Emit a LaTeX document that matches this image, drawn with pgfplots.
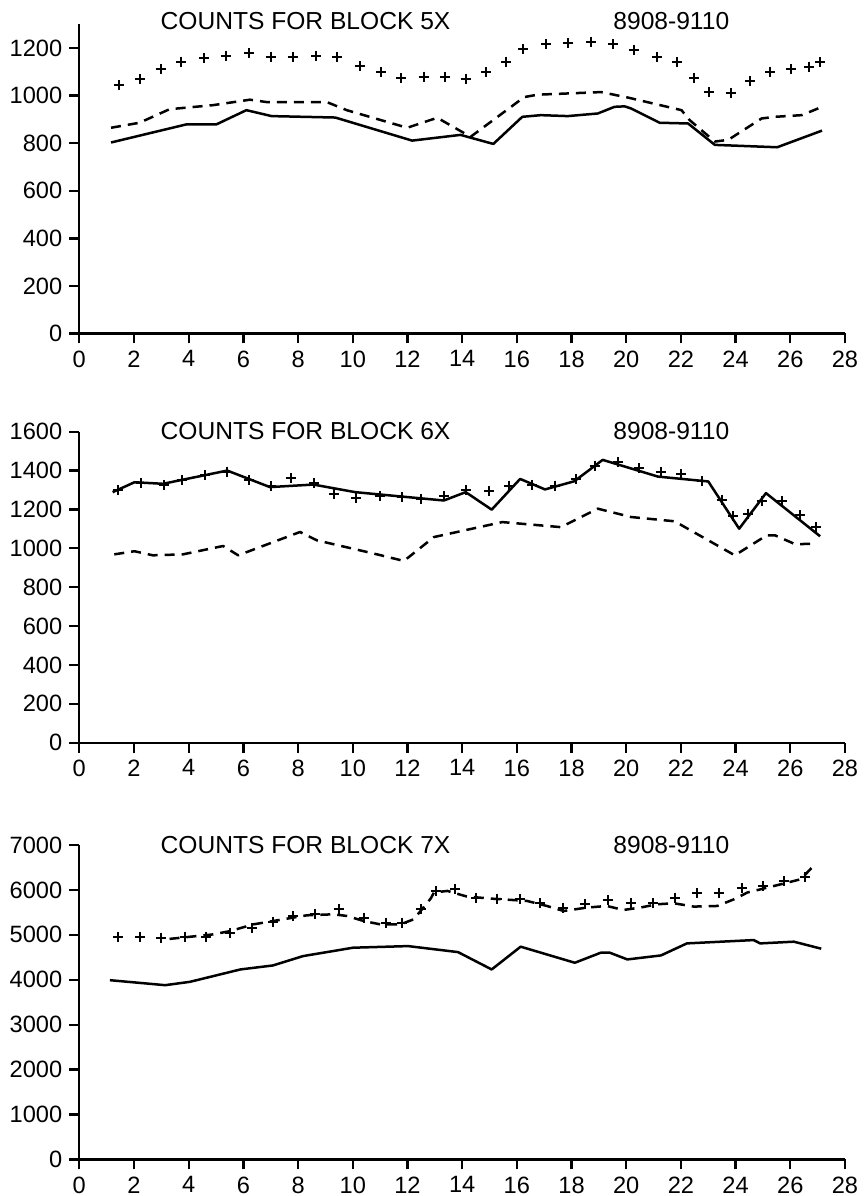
\documentclass[border=0pt]{standalone}
\usepackage{fontspec}
\setmainfont{Liberation Sans}
\usepackage{pgfplots}
\pgfplotsset{compat=1.18}

% Monthly counts, 8908-9110, three blocks
\pgfplotsset{
  countpanel/.style={
    scale only axis,
    width=382.85pt,
    xmin=0, xmax=28,
    ymin=0,
    xtick={0,2,...,28},
    axis lines=left,
    axis line style={-, line width=1.15pt},
    every tick/.style={black, line width=1.15pt},
    tick align=outside,
    major tick length=5pt,
    ticklabel style={font=\fontsize{11.8}{13}\selectfont},
    /pgf/number format/assume math mode=true,
    /pgf/number format/1000 sep={},
    clip=false,
  },
  plus/.style={only marks, mark=+, mark size=2.5pt, mark options={line width=1pt}},
  solidline/.style={no marks, line width=1.25pt, line join=round},
  dashline/.style={no marks, line width=1.25pt, dash pattern=on 5pt off 3.5pt, line join=round},
}
\tikzset{ptitle/.style={anchor=base west, inner sep=0pt, font=\fontsize{12.3}{14}\selectfont}}

\begin{document}
\begin{tikzpicture}
\useasboundingbox (0,0) rectangle (432.5pt,598pt);

% ---------------- Block 5X ----------------
\begin{axis}[countpanel, height=154.6pt, ymax=1300, ytick={0,200,...,1200},
  at={(39.65pt,431.25pt)}, anchor=south west]
\addplot[plus] coordinates {
(1.47,1043) (2.23,1071) (2.97,1112) (3.73,1143) (4.56,1158) (5.35,1168)
(6.21,1178) (7.00,1164) (7.80,1164) (8.66,1168) (9.44,1161) (10.25,1126)
(11.05,1098) (11.78,1073) (12.60,1080) (13.37,1080) (14.13,1070) (14.89,1098)
(15.60,1143) (16.24,1196) (17.06,1216) (17.86,1223) (18.72,1226) (19.51,1216)
(20.27,1193) (21.14,1161) (21.86,1140) (22.48,1075) (23.02,1015) (23.83,1011)
(24.53,1061) (25.26,1101) (26.03,1110) (26.69,1122) (27.09,1140)};
\addplot[dashline] coordinates {
(1.16,865) (2.20,886) (3.30,943) (4.89,960) (6.24,983) (6.85,973)
(9.05,973) (9.78,939) (11.99,865) (13.09,907) (14.31,827) (16.27,994)
(16.76,1004) (19.08,1015) (20.06,992) (22.02,939) (22.32,897) (23.24,807)
(23.73,814) (24.95,904) (25.44,911) (26.42,918) (27.16,953)};
\addplot[solidline] coordinates {
(1.16,803) (3.91,879) (5.01,879) (6.11,939) (7.03,914) (9.36,908)
(12.17,811) (13.94,835) (15.14,797) (16.20,911) (16.88,918) (17.86,914)
(18.96,925) (19.57,953) (19.94,955) (20.18,946) (21.22,886) (22.26,883)
(23.24,793) (25.52,783) (27.16,853)};
\node[ptitle] at (rel axis cs:0.1057,0.9816) {COUNTS FOR BLOCK 5X};
\node[ptitle] at (rel axis cs:0.697,0.9816) {8908-9110};
\end{axis}

% ---------------- Block 6X ----------------
\begin{axis}[countpanel, height=155.5pt, ymax=1600, ytick={0,200,...,1600},
  at={(39.65pt,226.65pt)}, anchor=south west]
\addplot[plus] coordinates {
(1.41,1301) (2.24,1335) (3.08,1328) (3.76,1349) (4.61,1375) (5.41,1395)
(6.20,1349) (7.00,1320) (7.74,1361) (8.60,1335) (9.32,1277) (10.12,1258)
(10.98,1267) (11.80,1263) (12.50,1255) (13.33,1267) (14.15,1298) (14.99,1294)
(15.72,1323) (16.57,1328) (17.39,1323) (18.17,1357) (18.84,1426) (19.69,1443)
(20.46,1414) (21.26,1395) (22.02,1380) (22.78,1345) (23.49,1250) (23.91,1164)
(24.44,1178) (24.98,1243) (25.71,1243) (26.36,1169) (26.94,1109)};
\addplot[solidline] coordinates {
(1.22,1289) (2.02,1340) (3.06,1332) (5.41,1400) (6.97,1315) (8.56,1328)
(10.09,1289) (13.33,1246) (14.13,1289) (15.08,1199) (16.12,1357) (17.03,1303)
(18.10,1345) (19.14,1455) (21.16,1369) (23.00,1344) (24.13,1101) (25.11,1284)
(27.09,1062)};
\addplot[dashline] coordinates {
(1.28,969) (2.02,985) (2.69,964) (3.79,969) (5.26,1012) (5.81,964)
(8.07,1084) (8.69,1041) (10.77,973) (11.87,935) (12.97,1058) (15.47,1135)
(17.61,1109) (18.96,1204) (20.18,1161) (21.77,1139) (23.97,964) (25.14,1067)
(25.44,1067) (26.18,1021) (26.91,1024)};
\node[ptitle] at (rel axis cs:0.1057,0.9756) {COUNTS FOR BLOCK 6X};
\node[ptitle] at (rel axis cs:0.697,0.9756) {8908-9110};
\end{axis}

% ---------------- Block 7X ----------------
\begin{axis}[countpanel, height=157.25pt, ymax=7000, ytick={0,1000,...,7000},
  at={(39.65pt,18.25pt)}, anchor=south west]
\addplot[plus] coordinates {
(1.43,4960) (2.23,4960) (3.00,4937) (3.87,4960) (4.64,4960) (5.52,5049)
(6.31,5145) (7.08,5286) (7.81,5420) (8.63,5458) (9.49,5569) (10.40,5384)
(11.20,5272) (11.81,5272) (12.48,5585) (13.03,5978) (13.73,6016) (14.50,5820)
(15.29,5808) (16.10,5808) (16.85,5703) (17.70,5607) (18.49,5681) (19.32,5777)
(20.17,5703) (20.97,5703) (21.80,5830) (22.60,5926) (23.39,5942) (24.23,6038)
(25.00,6089) (25.77,6201) (26.55,6277)};
\addplot[dashline] coordinates {
(3.30,4910) (4.90,5011) (5.52,5085) (6.37,5234) (8.32,5435) (9.30,5458)
(9.79,5420) (10.40,5308) (11.00,5234) (11.74,5234) (12.23,5346) (12.85,5808)
(12.97,5942) (13.46,5978) (14.17,5853) (15.03,5808) (16.37,5755) (17.10,5643)
(17.71,5531) (18.56,5607) (19.29,5643) (19.90,5554) (20.51,5607) (21.13,5681)
(21.74,5703) (22.47,5629) (23.33,5643) (23.94,5792) (24.43,5942) (25.41,6089)
(26.39,6239) (26.94,6596)};
\addplot[solidline] coordinates {
(1.12,3991) (3.14,3880) (4.05,3955) (5.89,4230) (7.08,4319) (8.18,4527)
(10.01,4714) (12.02,4750) (13.85,4616) (15.08,4230) (16.14,4737) (18.12,4379)
(19.07,4603) (19.40,4603) (20.04,4453) (21.27,4542) (22.22,4810) (24.66,4884)
(24.90,4810) (26.13,4848) (27.13,4692)};
\node[ptitle] at (rel axis cs:0.1057,0.9714) {COUNTS FOR BLOCK 7X};
\node[ptitle] at (rel axis cs:0.697,0.9714) {8908-9110};
\end{axis}
\end{tikzpicture}
\end{document}
